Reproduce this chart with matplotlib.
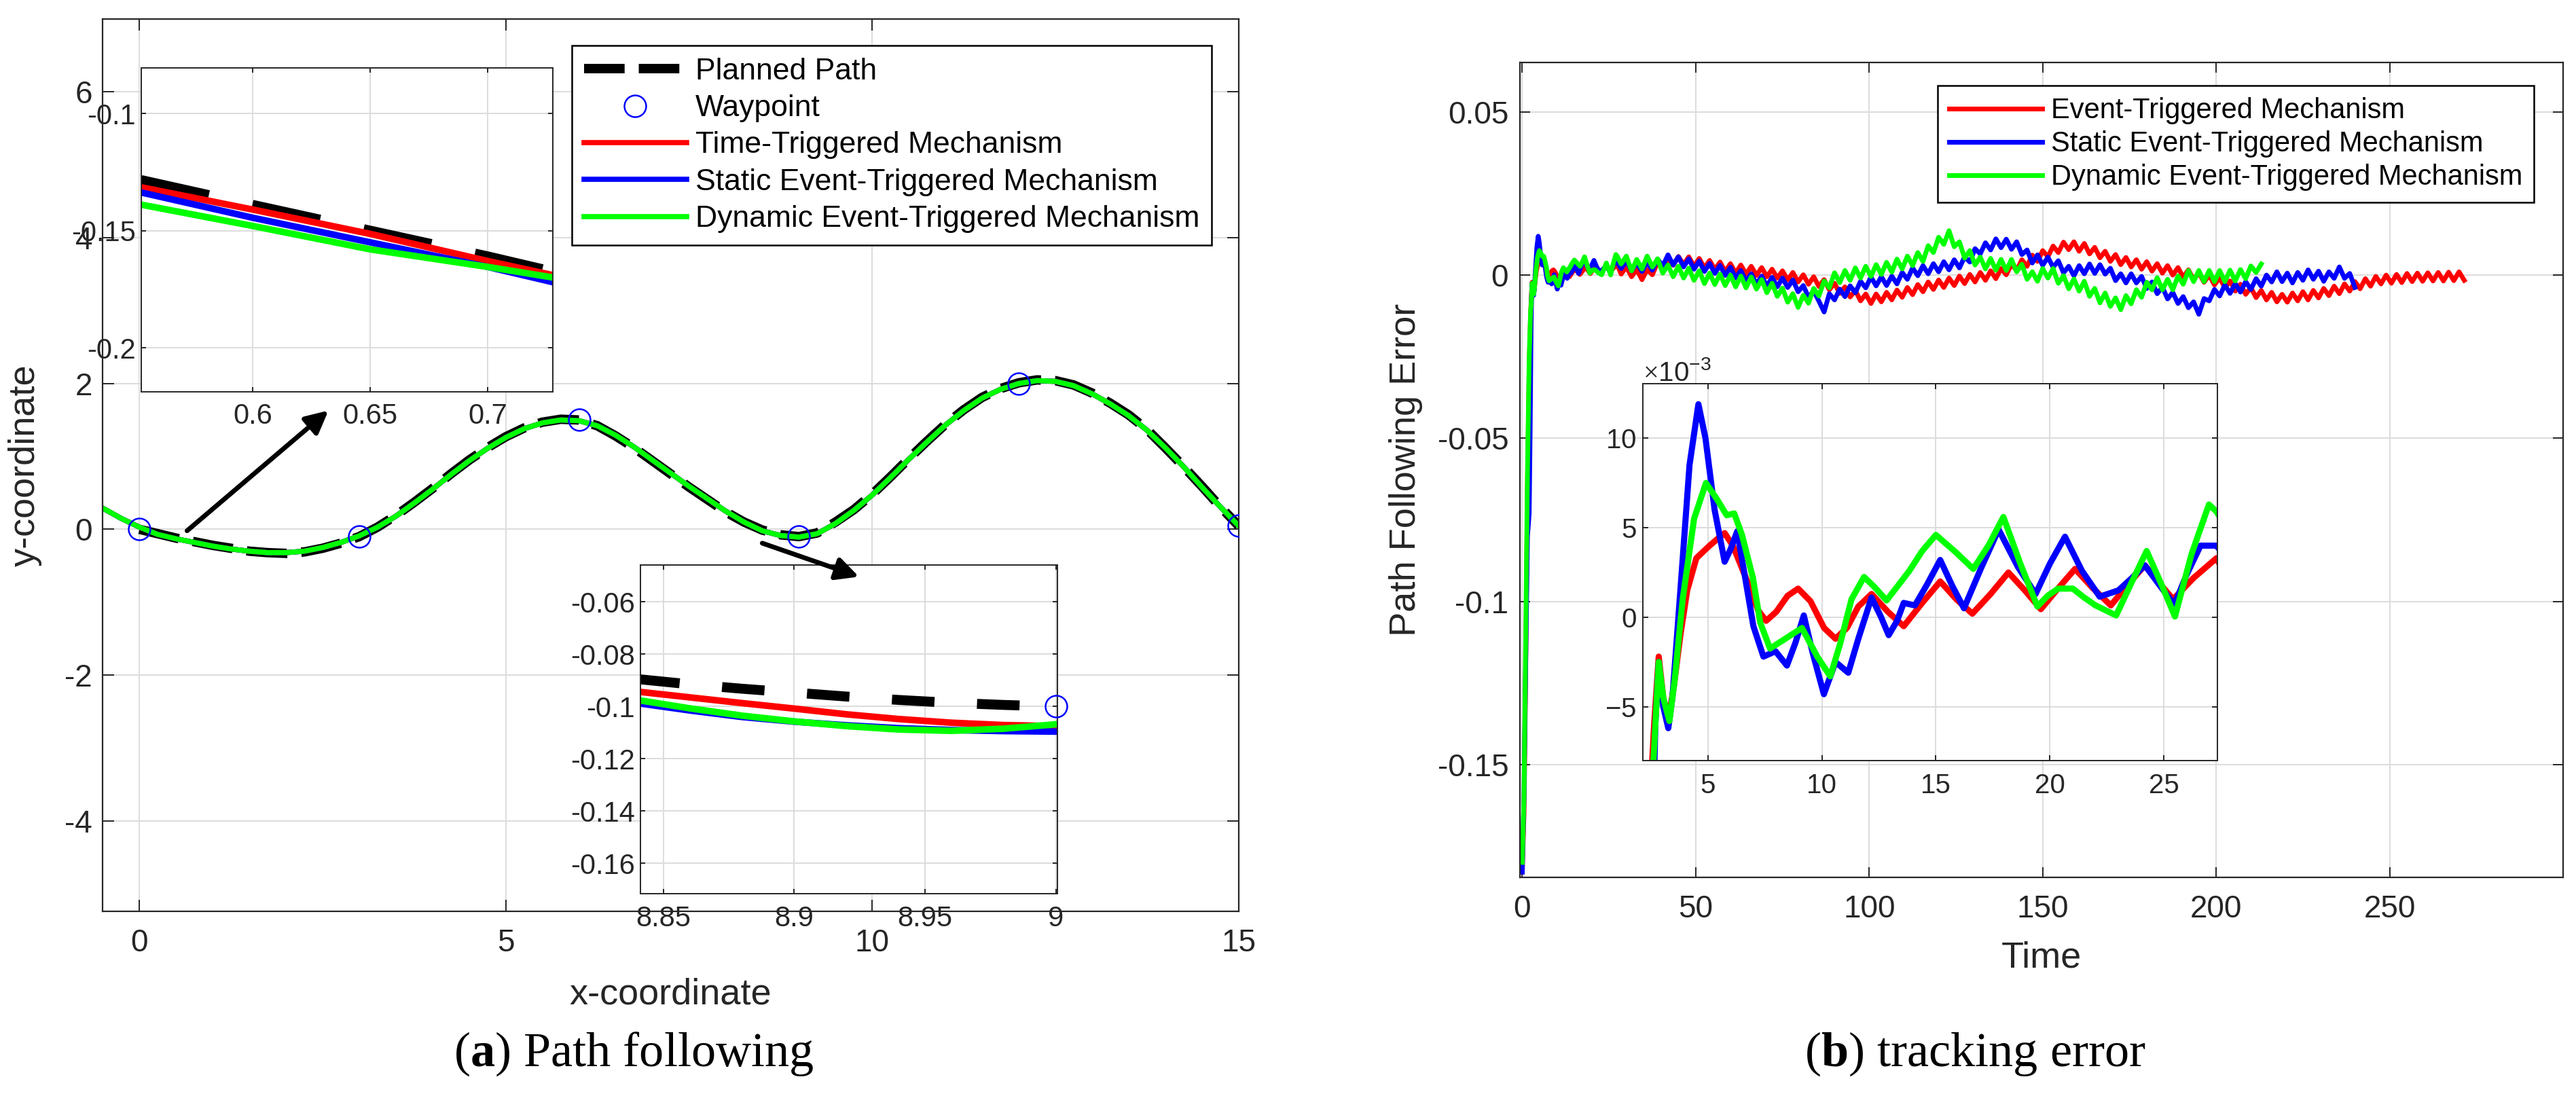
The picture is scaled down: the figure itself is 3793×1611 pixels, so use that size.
import numpy as np
import matplotlib
matplotlib.use("Agg")
import matplotlib.pyplot as plt
from matplotlib.patches import FancyArrowPatch
from matplotlib.ticker import FuncFormatter

plt.rcParams['font.family'] = ['Liberation Sans', 'DejaVu Sans']
plt.rcParams['axes.unicode_minus'] = False
plt.rcParams['mathtext.fontset'] = 'custom'
plt.rcParams['mathtext.rm'] = 'Liberation Serif'
plt.rcParams['mathtext.bf'] = 'Liberation Serif:bold'
plt.rcParams['lines.solid_joinstyle'] = 'round'

# ---------------- (a) path following data ----------------
path_step = 0.25
planned_y = [0.00, -0.06, -0.12, -0.17, -0.22, -0.26, -0.30, -0.32, -0.33, -0.31,
             -0.26, -0.19, -0.10, 0.03, 0.19, 0.37, 0.56, 0.76, 0.95, 1.12,
             1.27, 1.39, 1.47, 1.51, 1.50, 1.42, 1.28, 1.12, 0.94, 0.76,
             0.58, 0.41, 0.24, 0.10, -0.01, -0.075, -0.10, -0.05, 0.10, 0.27,
             0.48, 0.72, 0.97, 1.21, 1.44, 1.64, 1.81, 1.93, 2.01, 2.05,
             2.04, 1.98, 1.87, 1.73, 1.57, 1.37, 1.12, 0.86, 0.59, 0.31, 0.05]
track_y = [0.29, 0.15,
           0.03, -0.07, -0.13, -0.18, -0.23, -0.27, -0.30, -0.32, -0.32, -0.30,
           -0.25, -0.18, -0.09, 0.03, 0.18, 0.36, 0.55, 0.75, 0.94, 1.11,
           1.26, 1.38, 1.46, 1.50, 1.49, 1.42, 1.29, 1.13, 0.95, 0.77,
           0.59, 0.42, 0.25, 0.10, -0.02, -0.085, -0.107, -0.06, 0.08, 0.26,
           0.47, 0.71, 0.96, 1.20, 1.43, 1.63, 1.80, 1.92, 2.00, 2.04,
           2.03, 1.97, 1.86, 1.72, 1.56, 1.36, 1.12, 0.86, 0.58, 0.31, 0.05]
way_x = [0, 3, 6, 9, 12, 15]
way_y = [0, -0.1, 1.5, -0.1, 2, 0.05]

# zoom window near x = 0.65
z1_x = [0.5526, 0.6, 0.65, 0.7, 0.7276]
z1_planned = [-0.1284, -0.139, -0.150, -0.161, -0.1675]
z1_time = [-0.1315, -0.141, -0.1514, -0.163, -0.169]
z1_static = [-0.1337, -0.1445, -0.155, -0.1655, -0.172]
z1_dynamic = [-0.1389, -0.148, -0.158, -0.1655, -0.170]

# zoom window near x = 8.9
z2_x = [8.84, 8.86, 8.88, 8.90, 8.92, 8.94, 8.96, 8.98, 9.0]
z2_planned = [-0.0895, -0.0915, -0.0932, -0.0947, -0.0962, -0.0975, -0.0986, -0.0994, -0.1000]
z2_time = [-0.0943, -0.0965, -0.0987, -0.1008, -0.1030, -0.1048, -0.1062, -0.1071, -0.1075]
z2_static = [-0.0987, -0.1015, -0.1040, -0.1058, -0.1072, -0.1083, -0.1090, -0.1094, -0.1096]
z2_dynamic = [-0.0975, -0.1007, -0.1035, -0.1057, -0.1075, -0.1088, -0.1093, -0.1085, -0.1068]

# ---------------- (b) tracking error data (units of 1e-3) ----------------
red_t0 = [0, 0.5, 1.0, 1.5, 2.0, 2.4, 2.65, 2.85, 3.05, 3.27, 3.5, 3.8, 4.1, 4.5, 5.08,
          5.45, 5.74, 6.1, 6.8, 7.2, 7.56, 8.0, 8.5, 8.96, 9.5, 10.1, 10.6, 11.1, 11.6, 12.18,
          12.9, 13.59, 14.4, 15.19, 15.9, 16.6, 17.4, 18.18, 18.9, 19.6, 20.35, 21.1, 21.9,
          22.67, 23.4, 24.16, 24.8, 25.4, 26.3, 27.3]
red_e0 = [-183, -165, -120, -65, -28, -12, -6, -2.2, -4.5, -5.7, -4.0, -1.0, 1.5, 3.3, 4.0,
          4.4, 4.7, 4.0, 1.8, 0.4, -0.2, 0.3, 1.2, 1.6, 0.9, -0.6, -1.2, -0.6, 0.6, 1.3,
          0.3, -0.5, 0.8, 2.0, 1.0, 0.2, 1.3, 2.5, 1.5, 0.45, 1.6, 2.7, 1.6,
          0.66, 1.8, 2.9, 1.9, 1.0, 2.2, 3.3]
blue_t0 = [0, 0.5, 1.0, 1.5, 2.0, 2.3, 2.55, 2.7, 2.85, 3.05, 3.27, 3.45, 3.8, 4.2, 4.59,
           4.9, 5.3, 5.74, 6.0, 6.29, 6.6, 7.0, 7.44, 7.97, 8.47, 8.85, 9.21, 9.6, 10.09, 10.6,
           11.16, 11.6, 12.18, 12.6, 12.93, 13.3, 13.59, 14.08, 14.6, 15.19, 15.7, 16.23, 17.0,
           17.75, 18.6, 19.37, 20.0, 20.66, 21.4, 22.18, 23.0, 23.6, 24.16, 24.8, 25.45, 26.0,
           26.6, 27.3]
blue_e0 = [-183, -160, -118, -80, -73, -45, -15, -6, -2.5, -5.0, -6.2, -4.5, 1.5, 8.5, 11.9,
           10.0, 6.0, 3.1, 3.8, 4.8, 2.5, -0.5, -2.2, -1.9, -2.7, -1.4, 0.1, -2.0, -4.3, -2.5,
           -3.1, -1.2, 1.1, 0.0, -1.0, -0.2, 0.8, 0.66, 1.8, 3.2, 1.8, 0.5, 2.8,
           4.9, 2.8, 1.3, 3.0, 4.5, 2.6, 1.15, 1.5, 2.2, 2.9, 1.8, 0.7, 2.4,
           4.0, 4.0]
green_t0 = [0, 0.5, 1.0, 1.5, 2.0, 2.4, 2.6, 2.85, 3.05, 3.32, 3.55, 3.9, 4.4, 4.92, 5.4,
            5.83, 6.16, 6.5, 6.98, 7.3, 7.73, 8.4, 9.13, 9.8, 10.37, 10.8, 11.3, 11.85, 12.3,
            12.84, 13.3, 13.84, 14.4, 15.0, 15.9, 16.64, 17.3, 17.96, 18.7, 19.45, 19.9, 20.36,
            21.0, 21.5, 22.0, 22.9, 23.6, 24.24, 24.9, 25.48, 26.2, 26.97, 27.3]
green_e0 = [-180, -160, -110, -60, -25, -11, -8.5, -2.5, -4.5, -5.8, -3.5, 1.0, 5.5, 7.5, 6.6,
            5.7, 5.8, 4.6, 2.2, -0.3, -1.75, -1.2, -0.6, -2.2, -3.3, -1.5, 1.0, 2.25, 1.7,
            0.94, 1.7, 2.6, 3.7, 4.6, 3.6, 2.7, 4.0, 5.6, 3.0, 0.6, 1.2, 1.6,
            1.6, 1.1, 0.66, 0.1, 2.0, 3.7, 1.8, 0.04, 3.5, 6.3, 5.9]

# later part, sampled every 1.5 s from t = 28.5
late_start = 28.5
late_step = 1.5
red_e1 = [0.3, 2.5, -0.5, 1.7, -1.4, 1.7, 0.1, 3.8, 1.9, 5.2,
          3.0, 5.7, 3.2, 5.6, 2.7, 5.1, 2.2, 4.5, 1.7, 4.0,
          1.1, 3.5, 0.6, 3.1, 0.3, 2.7, -0.1, 2.3, -0.5, 1.8,
          -0.9, 1.3, -1.5, 0.8, -2.1, 0.1, -2.8, -0.5, -3.5, -1.4,
          -4.5, -2.5, -5.6, -3.6, -6.7, -4.7, -7.9, -5.8, -8.7, -5.8,
          -8.2, -5.3, -7.6, -4.6, -6.8, -3.8, -6.0, -2.9, -5.1, -2.1,
          -4.4, -1.5, -3.8, -0.9, -3.2, -0.3, -2.6, 0.2, -2.1, 0.8,
          -1.6, 1.3, -1.1, 2.0, 0.1, 3.3, 1.4, 4.7, 2.7, 6.1,
          4.2, 7.5, 5.6, 8.9, 6.9, 10.1, 7.8, 10.2, 7.3, 9.7,
          6.5, 8.5, 5.3, 7.3, 4.2, 6.3, 3.2, 5.4, 2.5, 4.7,
          1.8, 4.1, 1.2, 3.5, 0.6, 2.9, 0.0, 2.3, -0.7, 1.6,
          -1.4, 0.8, -2.2, 0.0, -3.0, -0.8, -3.9, -1.8, -4.9, -2.8,
          -5.9, -3.8, -6.9, -4.7, -7.6, -5.3, -8.2, -5.9, -8.3, -5.5,
          -7.9, -5.1, -7.6, -4.7, -7.0, -4.1, -6.3, -3.4, -5.7, -2.7,
          -4.9, -2.0, -4.2, -1.1, -3.4, -0.4, -2.7, 0.0, -2.5, 0.2,
          -2.3, 0.5, -2.0, 0.6, -1.9, 0.7, -1.8, 0.8, -1.8, 0.9,
          -1.7, 1.0, -1.6]
blue_e1 = [2.0, 4.4, 1.3, 3.8, 1.1, 4.0, 1.5, 4.9, 2.8, 6.2,
           3.1, 5.6, 2.5, 5.0, 1.8, 4.3, 1.1, 3.6, 0.5, 3.0,
           -0.1, 2.4, -0.9, 1.4, -1.9, 0.4, -2.8, -0.3, -3.4, -0.7,
           -3.6, -0.9, -3.8, -1.5, -5.1, -3.2, -6.8, -4.8, -8.0, -11.3,
           -5.7, -7.6, -4.3, -6.6, -3.3, -5.4, -1.9, -3.9, -0.6, -3.3,
           -0.5, -3.2, -0.3, -2.7, 0.8, -1.3, 2.2, -0.2, 2.9, 0.4,
           3.5, 1.0, 4.1, 1.6, 4.7, 2.2, 5.6, 4.0, 8.1, 6.5,
           9.9, 7.7, 11.1, 8.4, 11.0, 7.9, 10.2, 6.3, 7.7, 3.7,
           6.2, 3.0, 5.5, 2.4, 4.4, 0.7, 2.7, -0.2, 2.9, 0.4,
           3.4, 0.5, 3.2, 0.3, 2.1, -1.7, 0.4, -2.4, 0.4, -2.4,
           -0.4, -4.1, -2.1, -5.7, -3.7, -7.3, -5.3, -8.7, -6.6, -10.0,
           -8.2, -12.0, -7.2, -7.9, -4.4, -6.4, -3.0, -5.6, -2.6, -5.2,
           -2.0, -4.4, -1.1, -3.4, 0.0, -2.1, 1.0, -2.0, 0.6, -2.4,
           0.8, -1.6, 1.6, -1.3, 1.2, -1.9, 1.0, -1.0, 2.5, -1.0,
           0.5, -3.8]
green_e1 = [3.4, 5.8, 1.3, 4.8, 1.9, 5.8, 2.5, 5.0, 0.6, 3.1,
            -0.5, 2.7, -0.9, 2.1, -1.6, 1.3, -2.6, 0.6, -2.9, 0.3,
            -3.2, 0.0, -3.6, -0.3, -3.9, -0.6, -4.3, -1.4, -5.4, -2.5,
            -6.5, -4.0, -8.3, -5.7, -9.9, -6.2, -8.6, -4.1, -6.4, -1.8,
            -3.9, 0.7, -2.3, 1.4, -1.6, 2.2, -0.9, 2.7, -0.4, 3.2,
            0.2, 3.9, 0.9, 4.9, 1.9, 5.8, 2.9, 6.9, 4.2, 9.0,
            6.9, 11.6, 9.4, 13.6, 8.7, 10.2, 5.2, 7.5, 3.1, 5.5,
            1.9, 5.1, 1.5, 4.8, 1.4, 4.8, 1.0, 3.3, -1.3, 1.0,
            -1.9, 2.0, -0.9, 2.0, -2.5, -0.2, -4.2, -1.2, -4.9, -1.9,
            -6.5, -4.1, -8.5, -5.5, -9.6, -7.0, -10.6, -6.3, -8.8, -4.5,
            -6.8, -2.2, -4.5, -0.8, -4.5, -1.3, -4.5, -0.3, -2.8, 1.4,
            -2.0, 1.4, -2.0, 1.4, -2.0, 1.4, -2.0, 1.5, -1.8, 1.7,
            -1.1, 2.8, 0.8, 3.4]


def series(t0, e0, e1):
    t = np.concatenate([t0, late_start + late_step * np.arange(len(e1))])
    e = np.concatenate([e0, e1]) * 1e-3
    return t, e


red_t, red_e = series(red_t0, red_e0, red_e1)
blue_t, blue_e = series(blue_t0, blue_e0, blue_e1)
green_t, green_e = series(green_t0, green_e0, green_e1)

dark = '#262626'
gfmt = FuncFormatter(lambda v, p: '%g' % v)


def style(ax, fs, tl, padx, pady, sw=1.6):
    ax.grid(True, color='#dcdcdc', lw=1.4)
    ax.set_axisbelow(True)
    ax.tick_params(direction='in', length=tl, width=1.4, colors=dark,
                   labelsize=fs, top=True, right=True)
    ax.tick_params(axis='x', pad=padx)
    ax.tick_params(axis='y', pad=pady)
    for s in ax.spines.values():
        s.set_color(dark)
        s.set_linewidth(sw)


fig = plt.figure(figsize=(37.93, 16.11), dpi=100)

# ================= (a) =================
ax_a = fig.add_axes([0.0399, 0.1670, 0.4409, 0.8156])
px = np.arange(len(planned_y)) * path_step
tx = np.arange(len(track_y)) * path_step - 0.5
ax_a.plot(px, planned_y, color='k', lw=10, ls=(0, (4.3, 1.5)), label='Planned Path')
ax_a.plot(way_x, way_y, 'o', mfc='none', mec='b', ms=23, mew=1.8, label='Waypoint', zorder=4)
ax_a.plot(tx, track_y, color='r', lw=5.5, label='Time-Triggered Mechanism')
ax_a.plot(tx, track_y, color='b', lw=5.5, label='Static Event-Triggered Mechanism')
ax_a.plot(tx, track_y, color='#00ff00', lw=5.5, label='Dynamic Event-Triggered Mechanism')
ax_a.set_xlim(-0.5, 15)
ax_a.set_ylim(-5.24, 7)
ax_a.set_xticks([0, 5, 10, 15])
ax_a.set_yticks([-4, -2, 0, 2, 4, 6])
style(ax_a, 33, 12, 18, 11)
ax_a.set_xlabel('x-coordinate', fontsize=39, color=dark)
ax_a.set_ylabel('y-coordinate', fontsize=39, color=dark)
ax_a.xaxis.set_label_coords(0.5, -0.074)
ax_a.yaxis.set_label_coords(-0.0535, 0.5)
ax_a.legend(loc='upper right', bbox_to_anchor=(0.9764, 0.9703), borderaxespad=0,
            fontsize=32, fancybox=False, edgecolor='k', framealpha=1,
            handlelength=3.4, handletextpad=0.3, labelspacing=0.3, borderpad=0.4,
            numpoints=1).get_frame().set_linewidth(1.8)

# inset near start
ax_z1 = fig.add_axes([0.0548, 0.6421, 0.1598, 0.2961])
ax_z1.plot(z1_x, z1_planned, color='k', lw=10.5, ls=(0, (7, 4.5)))
ax_z1.plot(z1_x, z1_time, color='r', lw=7)
ax_z1.plot(z1_x, z1_static, color='b', lw=7)
ax_z1.plot(z1_x, z1_dynamic, color='#00ff00', lw=7)
ax_z1.set_xlim(0.5526, 0.7276)
ax_z1.set_ylim(-0.2187, -0.0804)
ax_z1.set_xticks([0.6, 0.65, 0.7])
ax_z1.set_yticks([-0.2, -0.15, -0.1])
style(ax_z1, 30, 5, 12, 6, sw=1.4)
ax_z1.xaxis.set_major_formatter(gfmt)
ax_z1.yaxis.set_major_formatter(gfmt)

# inset near x = 9
ax_z2 = fig.add_axes([0.2486, 0.1831, 0.1619, 0.3004])
ax_z2.plot(z2_x, z2_planned, color='k', lw=10.5, ls=(0, (4.3, 4.3)))
ax_z2.plot(z2_x, z2_time, color='r', lw=7)
ax_z2.plot(z2_x, z2_static, color='b', lw=7)
ax_z2.plot(z2_x, z2_dynamic, color='#00ff00', lw=7)
ax_z2.plot(way_x, way_y, 'o', mfc='none', mec='b', ms=23, mew=1.8, clip_on=False, zorder=5)
ax_z2.set_xlim(8.8412, 9.0006)
ax_z2.set_ylim(-0.1716, -0.0459)
ax_z2.set_xticks([8.85, 8.9, 8.95, 9])
ax_z2.set_yticks([-0.16, -0.14, -0.12, -0.1, -0.08, -0.06])
style(ax_z2, 30, 5, 12, 6, sw=1.4)
ax_z2.xaxis.set_major_formatter(gfmt)
ax_z2.yaxis.set_major_formatter(gfmt)

# arrows pointing at the zoomed regions (drawn above the insets)
for tail, head in [((0.65, -0.02), (2.58, 1.63)), ((8.5, -0.19), (9.82, -0.65))]:
    fig.add_artist(FancyArrowPatch(tail, head, transform=ax_a.transData,
                                   arrowstyle='-|>', mutation_scale=50, lw=5,
                                   color='k', shrinkA=0, shrinkB=0))

# ================= (b) =================
ax_b = fig.add_axes([0.5900, 0.1983, 0.4050, 0.7447])
ax_b.plot(red_t, red_e, color='r', lw=5, label='Event-Triggered Mechanism')
ax_b.plot(blue_t, blue_e, color='b', lw=5, label='Static Event-Triggered Mechanism')
ax_b.plot(green_t, green_e, color='#00ff00', lw=5, label='Dynamic Event-Triggered Mechanism')
ax_b.set_xlim(-0.7, 300)
ax_b.set_ylim(-0.1845, 0.0652)
ax_b.set_xticks([0, 50, 100, 150, 200, 250])
ax_b.set_yticks([-0.15, -0.1, -0.05, 0, 0.05])
style(ax_b, 33, 11, 18, 12)
ax_b.yaxis.set_major_formatter(gfmt)
ax_b.set_xlabel('Time', fontsize=39, color=dark)
ax_b.set_ylabel('Path Following Error', fontsize=39, color=dark)
ax_b.xaxis.set_label_coords(0.5, -0.078)
ax_b.yaxis.set_label_coords(-0.093, 0.5)
ax_b.legend(loc='upper right', bbox_to_anchor=(0.972, 0.9711), borderaxespad=0,
            fontsize=30, fancybox=False, edgecolor='k', framealpha=1,
            handlelength=3.3, handletextpad=0.3, labelspacing=0.22,
            borderpad=0.4).get_frame().set_linewidth(1.8)

ax_bz = fig.add_axes([0.6378, 0.3049, 0.2229, 0.3441])
ax_bz.plot(red_t, red_e, color='r', lw=6.5)
ax_bz.plot(blue_t, blue_e, color='b', lw=6.5)
ax_bz.plot(green_t, green_e, color='#00ff00', lw=6.5)
ax_bz.set_xlim(2.16, 27.33)
ax_bz.set_ylim(-8.0e-3, 13.03e-3)
ax_bz.set_xticks([5, 10, 15, 20, 25])
ax_bz.set_yticks([-5e-3, 0, 5e-3, 10e-3])
style(ax_bz, 29, 6, 13, 7, sw=1.4)
ax_bz.ticklabel_format(axis='y', style='sci', scilimits=(-3, -3), useMathText=True)
ax_bz.yaxis.get_offset_text().set_fontsize(29)
ax_bz.yaxis.get_offset_text().set_color(dark)

# captions
fig.text(0.246, 0.0255, r'($\mathbf{a}$) Path following', family='Liberation Serif',
         fontsize=52, ha='center', va='baseline')
fig.text(0.7667, 0.0255, r'($\mathbf{b}$) tracking error', family='Liberation Serif',
         fontsize=52, ha='center', va='baseline')

fig.savefig('out.png', dpi=100)
